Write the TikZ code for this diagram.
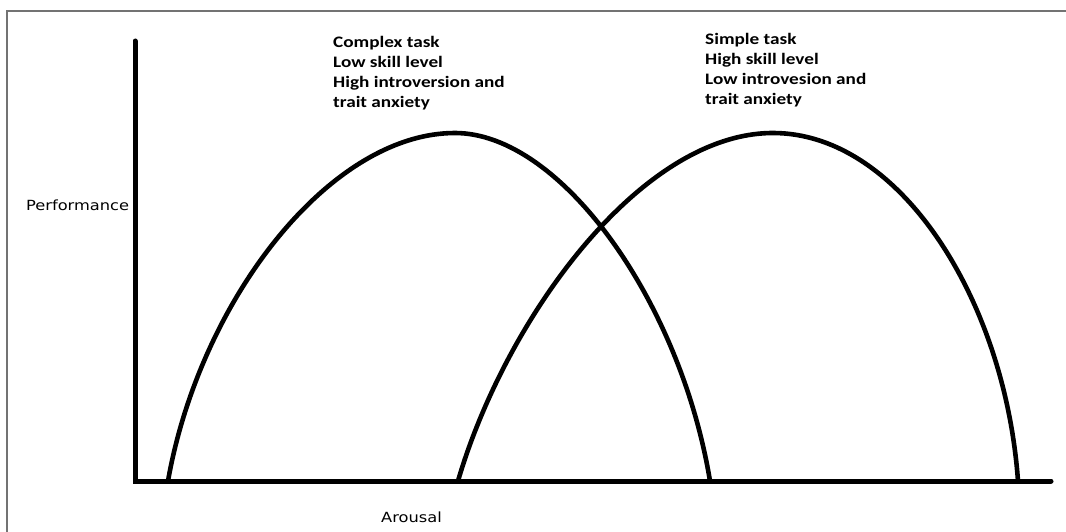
\documentclass[tikz,border=0pt]{standalone}
\usepackage{fontspec}
\newfontfamily\annotfont[FakeStretch=1.2]{Carlito}
\newfontfamily\axisfont[FakeStretch=1.16]{DejaVu Sans}
\begin{document}
\begin{tikzpicture}[x=1pt,y=-1pt,
  axisline/.style={line width=5pt,line cap=round},
  curveline/.style={line width=4.6pt},
  framegray/.style={draw=black!55,line width=1.5pt},
  axislabel/.style={font=\axisfont\fontsize{14}{17}\selectfont,inner sep=0pt,anchor=base west},
  annot/.style={font=\annotfont\bfseries\fontsize{16}{20}\selectfont,align=left,inner sep=0pt,anchor=north west}]
\useasboundingbox (0,0) rectangle (1066,532);
\fill[white] (0,0) rectangle (1066,532);
% frame (top and left edges only)
\coordinate (fbl) at (7,532);
\coordinate (ftl) at (7,11);
\coordinate (ftr) at (1066,11);
\draw[framegray] (fbl) -- (ftl) -- (ftr);
% axes
\coordinate (ytop) at (135,41);
\coordinate (origin) at (135,481);
\coordinate (xend) at (1051,481);
\draw[axisline] (ytop) -- (origin) -- (xend);
% left curve
\coordinate (la) at (168,481);
\coordinate (lp) at (455,133);
\coordinate (lb) at (710,481);
\draw[curveline] (la) .. controls (200,300) and (330,133) .. (lp)
  .. controls (560,133) and (680,300) .. (lb);
% right curve
\coordinate (ra) at (458,481);
\coordinate (rp) at (773,133);
\coordinate (rb) at (1018,481);
\draw[curveline] (ra) .. controls (505,320) and (640,133) .. (rp)
  .. controls (900,133) and (1005,300) .. (rb);
% labels
\node[axislabel] (perf) at (26,210.7) {Performance};
\node[axislabel] (arous) at (381,522.7) {Arousal};
\node[annot] (complex) at (333,36.5) {Complex task\\Low skill level\\High introversion and\\trait anxiety};
\node[annot] (simple) at (705,33.5) {Simple task\\High skill level\\Low introvesion and\\trait anxiety};
\end{tikzpicture}
\end{document}
